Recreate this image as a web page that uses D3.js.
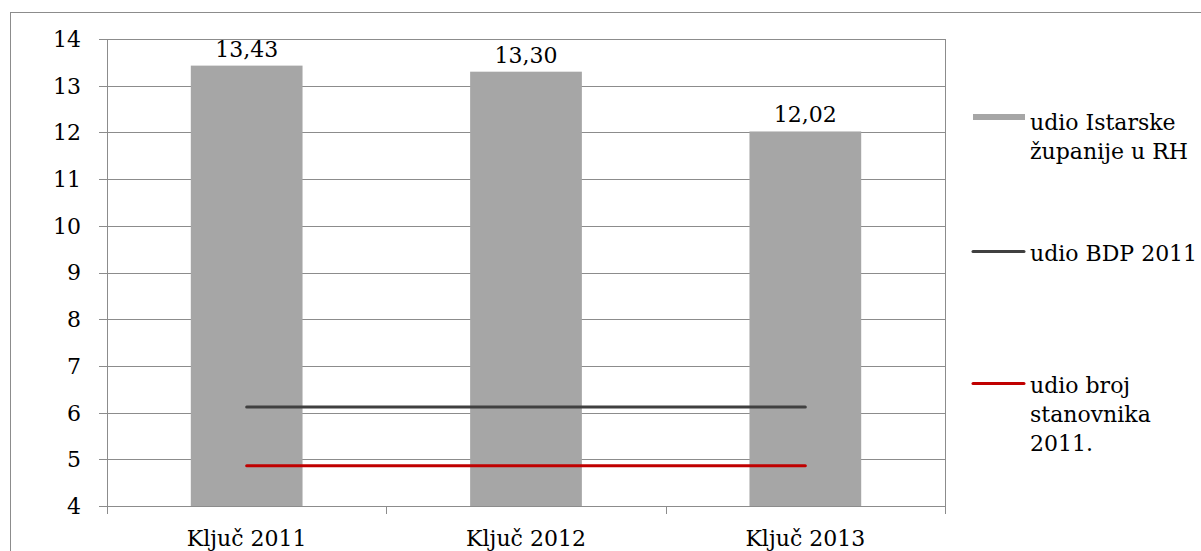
<!DOCTYPE html>
<html>
<head>
<meta charset="utf-8">
<script src="https://cdn.jsdelivr.net/npm/d3@7"></script>
<style>
  html, body { margin: 0; padding: 0; background: #fff; }
  svg { display: block; font-family: "DejaVu Serif", "Liberation Serif", serif; }
</style>
</head>
<body>
<div id="chart"></div>
<script>
// data
const categories = ['Ključ 2011', 'Ključ 2012', 'Ključ 2013'];
const shareIstria = [13.43, 13.30, 12.02];
const shareGdp = [6.12, 6.12, 6.12];
const sharePopulation = [4.86, 4.86, 4.86];
const yTicks = [4, 5, 6, 7, 8, 9, 10, 11, 12, 13, 14];
const legendLabels = [
    ['udio Istarske', 'županije u RH'],
    ['udio BDP 2011'],
    ['udio broj', 'stanovnika', '2011.']
];

const W = 1201, H = 551;
const plot = { left: 107, right: 945, top: 39, bottom: 506 };
const gridColor = '#8c8c8c';
const fontSize = 22;

const svg = d3.select('#chart').append('svg')
    .attr('width', W)
    .attr('height', H);

// outer chart border (runs off the right/bottom edge like the original)
svg.append('rect')
    .attr('x', 10.5).attr('y', 12.5)
    .attr('width', W).attr('height', H)
    .attr('fill', 'none')
    .attr('stroke', gridColor)
    .attr('stroke-width', 1);

const x = d3.scaleBand()
    .domain(categories)
    .range([plot.left, plot.right])
    .paddingInner(0.6)
    .paddingOuter(0.3);

const y = d3.scaleLinear()
    .domain([4, 14])
    .range([plot.bottom, plot.top]);

// horizontal gridlines + y ticks
svg.append('g')
    .selectAll('line')
    .data(yTicks)
    .join('line')
    .attr('x1', plot.left - 8)
    .attr('x2', plot.right)
    .attr('y1', d => Math.round(y(d)) + 0.5)
    .attr('y2', d => Math.round(y(d)) + 0.5)
    .attr('stroke', gridColor)
    .attr('stroke-width', 1);

// y axis labels
svg.append('g')
    .selectAll('text')
    .data(yTicks)
    .join('text')
    .attr('x', 81)
    .attr('y', d => y(d))
    .attr('dy', '0.36em')
    .attr('text-anchor', 'end')
    .attr('font-size', fontSize)
    .attr('fill', '#000')
    .text(d => d);

// vertical axis lines and category tick marks
const boundaries = [plot.left, ...categories.slice(1).map(c => x(c) - x.step() * x.paddingInner() / 2), plot.right];
svg.append('g')
    .selectAll('line')
    .data(boundaries)
    .join('line')
    .attr('x1', d => Math.round(d) + 0.5)
    .attr('x2', d => Math.round(d) + 0.5)
    .attr('y1', (d, i) => (i === 0 || i === boundaries.length - 1) ? plot.top : plot.bottom)
    .attr('y2', plot.bottom + 8)
    .attr('stroke', gridColor)
    .attr('stroke-width', 1);

// bars
svg.append('g')
    .selectAll('rect')
    .data(shareIstria)
    .join('rect')
    .attr('x', (d, i) => x(categories[i]))
    .attr('y', d => y(d))
    .attr('width', x.bandwidth())
    .attr('height', d => y(4) - y(d))
    .attr('fill', '#a6a6a6');

// value labels
svg.append('g')
    .selectAll('text')
    .data(shareIstria)
    .join('text')
    .attr('x', (d, i) => x(categories[i]) + x.bandwidth() / 2)
    .attr('y', d => y(d) - 9)
    .attr('text-anchor', 'middle')
    .attr('font-size', fontSize)
    .attr('fill', '#000')
    .text(d => d.toFixed(2).replace('.', ','));

// category labels
svg.append('g')
    .selectAll('text')
    .data(categories)
    .join('text')
    .attr('x', d => x(d) + x.bandwidth() / 2)
    .attr('y', 546)
    .attr('text-anchor', 'middle')
    .attr('font-size', fontSize)
    .attr('fill', '#000')
    .text(d => d);

// reference lines
const line = d3.line()
    .x((d, i) => x(categories[i]) + x.bandwidth() / 2)
    .y(d => y(d));

svg.append('path')
    .datum(shareGdp)
    .attr('d', line)
    .attr('fill', 'none')
    .attr('stroke', '#404040')
    .attr('stroke-width', 3)
    .attr('stroke-linecap', 'round');

svg.append('path')
    .datum(sharePopulation)
    .attr('d', line)
    .attr('fill', 'none')
    .attr('stroke', '#c00000')
    .attr('stroke-width', 3)
    .attr('stroke-linecap', 'round');

// legend
const legendBaselines = [130, 261, 393];
const lg = svg.append('g');

lg.append('rect')
    .attr('x', 973).attr('y', legendBaselines[0] - 16)
    .attr('width', 52).attr('height', 6)
    .attr('fill', '#a6a6a6');

[['#404040', 1], ['#c00000', 2]].forEach(([color, i]) => {
    lg.append('line')
        .attr('x1', 973).attr('x2', 1024)
        .attr('y1', legendBaselines[i] - 9.5)
        .attr('y2', legendBaselines[i] - 9.5)
        .attr('stroke', color)
        .attr('stroke-width', 3)
        .attr('stroke-linecap', 'round');
});

legendLabels.forEach((lines, i) => {
    const t = lg.append('text')
        .attr('x', 1030)
        .attr('y', legendBaselines[i])
        .attr('font-size', fontSize)
        .attr('fill', '#000');
    t.selectAll('tspan')
        .data(lines)
        .join('tspan')
        .attr('x', 1030)
        .attr('dy', (d, j) => j === 0 ? 0 : 29)
        .text(d => d);
});
</script>
</body>
</html>
